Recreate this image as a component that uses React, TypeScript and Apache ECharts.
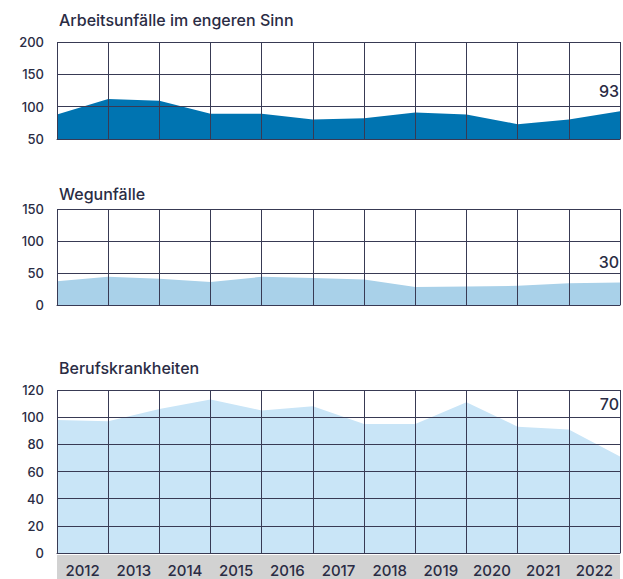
import React, { useEffect, useRef } from "react";
import * as echarts from "echarts";

const points = ["p0", "p1", "p2", "p3", "p4", "p5", "p6", "p7", "p8", "p9", "p10", "p11"];
const years = ["2012", "2013", "2014", "2015", "2016", "2017", "2018", "2019", "2020", "2021", "2022"];
const arbeitsunfaelle = [88, 112, 109, 89, 89, 80, 82, 91, 88, 73, 80, 93];
const wegunfaelle = [37, 44, 41, 36, 44, 42, 40, 28, 29, 30, 34, 35];
const berufskrankheiten = [98, 97, 106, 113, 105, 108, 95, 95, 111, 93, 91, 71];
const titles = ["Arbeitsunfälle im engeren Sinn", "Wegunfälle", "Berufskrankheiten"];
const latestLabels = ["93", "30", "70"];
const yMins = [50, 0, 0];
const yMaxs = [200, 150, 120];
const yIntervals = [50, 50, 20];

const TEXT = "#2a2c44";
const LINE = "#383a54";
const FONT = "Inter, 'Noto Sans', sans-serif";

export default function App() {
  const ref = useRef<HTMLDivElement>(null);
  useEffect(() => {
    if (!ref.current) return;
    const chart = echarts.init(ref.current, undefined, { renderer: "svg" });
    const grids = [
      { left: 57, right: 3, top: 42, height: 97 },
      { left: 57, right: 3, top: 209, height: 96 },
      { left: 57, right: 3, top: 390, height: 163 },
    ];
    const seriesData = [arbeitsunfaelle, wegunfaelle, berufskrankheiten];
    const colors = ["#0074b1", "#a9d1e9", "#c9e5f7"];
    const xAxes: any[] = grids.map((_, i) => ({
      type: "category",
      gridIndex: i,
      data: points,
      boundaryGap: false,
      z: 5,
      axisLine: { show: true, lineStyle: { color: LINE, width: 1 } },
      axisTick: { show: false },
      axisLabel: { show: false },
      splitLine: { show: true, lineStyle: { color: LINE, width: 1 } },
    }));
    xAxes.push({
      type: "category",
      gridIndex: 2,
      data: years,
      boundaryGap: true,
      position: "bottom",
      z: 6,
      axisLine: { show: false },
      axisTick: { show: false },
      splitLine: { show: false },
      axisLabel: {
        show: true,
        color: TEXT,
        fontFamily: FONT,
        fontSize: 15,
        fontWeight: 500,
        margin: 10,
        interval: 0,
      },
    });
    const yAxes = grids.map((_, i) => ({
      type: "value",
      gridIndex: i,
      min: yMins[i],
      max: yMaxs[i],
      interval: yIntervals[i],
      z: 5,
      axisLine: { show: false },
      axisTick: { show: false },
      axisLabel: {
        color: TEXT,
        fontFamily: FONT,
        fontSize: 13,
        fontWeight: 500,
        margin: 13,
      },
      splitLine: { show: true, lineStyle: { color: LINE, width: 1 } },
    }));
    const series = seriesData.map((d, i) => ({
      type: "line",
      xAxisIndex: i,
      yAxisIndex: i,
      data: d,
      symbol: "none",
      lineStyle: { width: 0 },
      areaStyle: { color: colors[i], opacity: 1, origin: "start" },
      z: 2,
    }));
    const labelY = [91, 262, 404];
    chart.setOption({
      animation: false,
      grid: grids,
      xAxis: xAxes,
      yAxis: yAxes,
      series,
      title: titles.map((t, i) => ({
        text: t,
        left: 59,
        top: [12, 186, 360][i],
        padding: 0,
        textStyle: { color: TEXT, fontFamily: FONT, fontSize: 16, fontWeight: 500 },
      })),
      graphic: [
        {
          type: "rect",
          shape: { x: 57, y: 555, width: 563, height: 24 },
          style: { fill: "#d2d2d2" },
          z: 0,
        },
        ...latestLabels.map((t, i) => ({
          type: "text",
          x: 619,
          y: labelY[i],
          z: 10,
          style: {
            text: t,
            fill: TEXT,
            font: `500 16px ${FONT}`,
            textAlign: "right",
            textVerticalAlign: "middle",
          },
        })),
      ],
    });
    return () => chart.dispose();
  }, []);
  return (
    <div
      ref={ref}
      style={{ position: "fixed", left: 0, top: 0, width: 623, height: 579, background: "#fff" }}
    />
  );
}
